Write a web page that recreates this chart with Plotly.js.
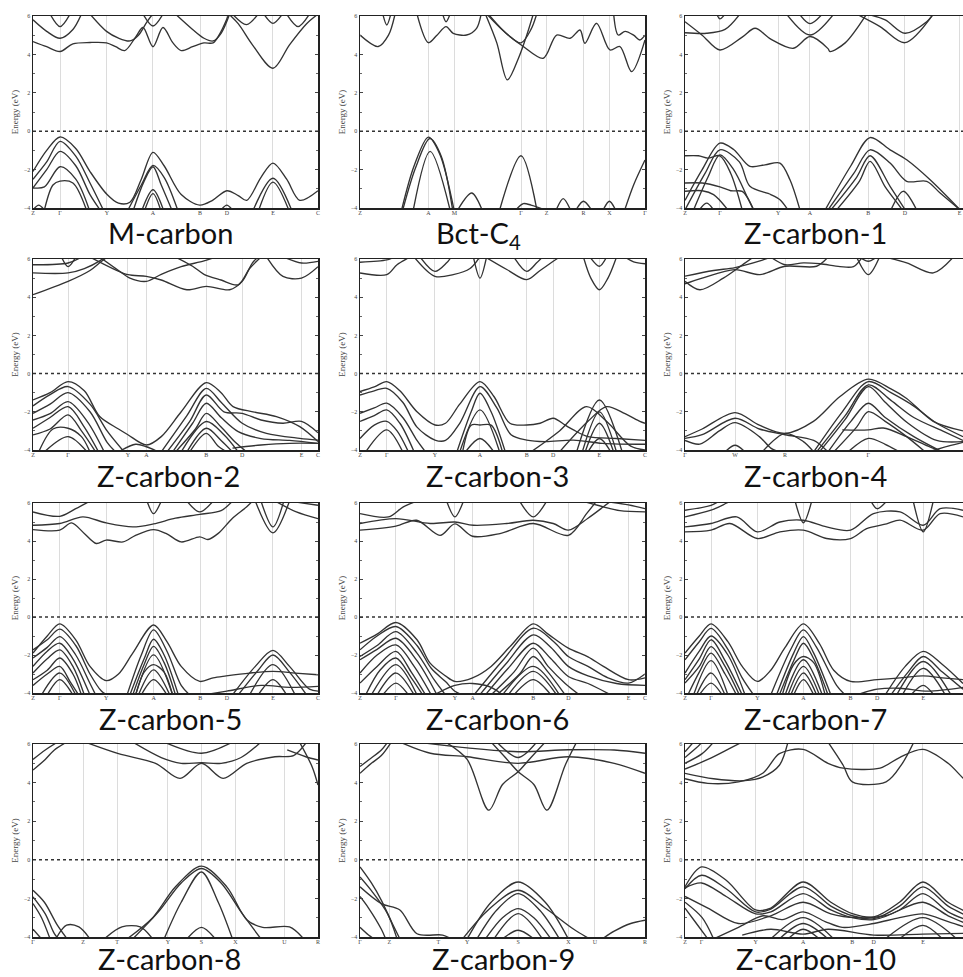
<!DOCTYPE html>
<html><head><meta charset="utf-8">
<script src="https://cdn.plot.ly/plotly-3.0.1.min.js"></script>
<style>html,body{margin:0;padding:0;background:#fff;overflow:hidden}</style>
</head><body><div id="chart" style="width:963px;height:977px"></div>
<script>
// ---------------- DATA ----------------
const panelTitles = ['M-carbon','Bct-C<sub>4</sub>','Z-carbon-1','Z-carbon-2','Z-carbon-3','Z-carbon-4',
  'Z-carbon-5','Z-carbon-6','Z-carbon-7','Z-carbon-8','Z-carbon-9','Z-carbon-10'];
const energyTicks = [-4,-2,0,2,4,6];
const fermiLevel = 0;

// k-path positions (fraction of path) and labels
const kposM = [0,.095,.259,.421,.586,.68,.842,1];           const klabM = ['Z','Γ','Y','A','B','D','E','C'];
const kposBct = [0,.24,.331,.565,.655,.784,.875,1];         const klabBct = ['Z','A','M','Γ','Z','R','X','Γ'];
const kposZ1 = [0,.122,.326,.437,.641,.769,.96];            const klabZ1 = ['Z','Γ','Y','A','B','D','E'];
const kposZ2 = [0,.123,.333,.398,.608,.734,.942,1];         const klabZ2 = ['Z','Γ','Y','A','B','D','E','C'];
const kposZ3 = [0,.094,.263,.421,.585,.678,.84,1];          const klabZ3 = ['Z','Γ','Y','A','B','D','E','C'];
const kposZ4 = [0,.175,.35,.641];                           const klabZ4 = ['Γ','W','R','Γ'];
const kposZ5 = [0,.094,.257,.423,.587,.68,.842,1];          const klabZ5 = ['Z','Γ','Y','A','B','D','E','C'];
const kposZ6 = [0,.126,.333,.395,.608,.731,.942,1];         const klabZ6 = ['Z','Γ','Y','A','B','D','E','C'];
const kposZ7 = [0,.091,.253,.414,.579,.672,.833];           const klabZ7 = ['Z','Γ','Y','A','B','D','E'];
const kposZ8 = [0,.176,.295,.473,.591,.71,.882,1];          const klabZ8 = ['Γ','Z','T','Y','S','X','U','R'];
const kposZ9 = [0,.103,.275,.376,.555,.731,.824,1];         const klabZ9 = ['Γ','Z','T','Y','S','X','U','R'];
const kposZ10 = [0,.058,.247,.413,.585,.66,.832];           const klabZ10 = ['Z','Γ','Y','A','B','D','E'];

// bands: each band is a list of [k, energy(eV)] points
const bandsM = [
 [[0,-2.1],[.048,-1.0],[.095,-0.3],[.15,-0.9],[.2,-2.1],[.26,-3.3],[.3,-3.75],[.34,-3.7],[.38,-2.5],[.421,-1.1],[.46,-1.8],[.52,-3.3],[.585,-3.85],[.63,-3.6],[.68,-3.1],[.72,-3.35],[.75,-3.6],[.8,-2.4],[.842,-1.66],[.89,-2.5],[.936,-3.6],[1,-3.1]],
 [[0,-2.5],[.048,-1.6],[.095,-0.53],[.15,-1.3],[.2,-2.7],[.25,-4.2]],
 [[0,-2.95],[.048,-2.0],[.095,-1.05],[.15,-1.8],[.2,-3.3],[.24,-4.2]],
 [[0,-2.95],[.04,-2.9],[.095,-1.85],[.15,-2.5],[.2,-4.2]],
 [[.04,-4.1],[.07,-2.8],[.095,-2.6],[.14,-2.7],[.19,-4.2]],
 [[.33,-4.2],[.38,-2.8],[.421,-1.78],[.46,-2.4],[.51,-4.2]],
 [[.35,-4.2],[.39,-2.6],[.421,-1.85],[.45,-2.8],[.49,-4.2]],
 [[.38,-4.2],[.421,-3.05],[.46,-4.2]],
 [[.39,-4.2],[.421,-3.25],[.45,-4.2]],
 [[.77,-4.2],[.842,-2.45],[.91,-4.2]],
 [[.79,-4.2],[.842,-2.65],[.9,-4.2]],
 [[.66,-4.1],[.68,-3.85],[.7,-4.1]],
 [[0,-4.1],[.02,-3.85],[.04,-4.1]],
 [[0,4.67],[.048,4.4],[.095,4.15],[.14,4.55],[.2,4.62],[.258,4.6],[.29,4.4],[.322,4.2],[.36,4.9],[.386,5.4],[.421,4.4],[.456,5.4],[.491,4.6],[.52,4.2],[.56,4.4],[.6,4.6],[.632,4.6],[.66,5.2],[.69,6.2]],
 [[.68,6.2],[.72,5.6],[.77,4.5],[.842,3.28],[.9,4.5],[.96,5.6],[1,6.1]],
 [[0,5.8],[.048,5.2],[.095,4.84],[.14,5.3],[.17,6.1]],
 [[.06,6.1],[.095,5.45],[.13,6.1]],
 [[.2,6.1],[.258,5.2],[.3,4.85],[.34,4.7],[.37,5.0],[.4,5.7],[.42,6.1]],
 [[.386,6.1],[.421,5.48],[.456,6.1]],
 [[.5,6.1],[.56,5.3],[.6,4.84],[.632,4.7],[.66,5.1],[.69,6.1]],
 [[.7,6.1],[.749,5.55],[.79,6.1]],
 [[.81,6.1],[.842,5.62],[.875,6.1]],
 [[.89,6.1],[.93,5.45],[.97,6.1]]
];
const bandsBct = [
 [[.146,-4.1],[.19,-1.8],[.24,-0.31],[.28,-1.2],[.33,-4.1]],
 [[.15,-4.1],[.195,-1.9],[.245,-0.38],[.285,-1.3],[.325,-4.1]],
 [[.187,-4.1],[.246,-1.05],[.316,-4.1]],
 [[.345,-4.05],[.392,-3.22],[.427,-4.05]],
 [[.491,-4.05],[.565,-1.28],[.62,-4.05]],
 [[.55,-4.05],[.573,-3.77],[.6,-3.85],[.64,-4.05]],
 [[.69,-4.05],[.713,-3.51],[.737,-4.05]],
 [[.76,-4.05],[.784,-3.65],[.81,-4.05]],
 [[.855,-4.05],[.875,-3.65],[.895,-4.05]],
 [[.93,-4.05],[.96,-2.8],[1,-1.5]],
 [[0,5.01],[.064,4.41],[.1,5.0],[.123,6.1]],
 [[.08,6.1],[.094,5.53],[.108,6.1]],
 [[.2,6.1],[.24,4.61],[.27,5.0],[.302,5.45],[.327,5.1],[.374,5.01],[.409,5.36],[.425,6.1]],
 [[.29,6.1],[.302,5.7],[.316,6.1]],
 [[.44,6.1],[.48,4.6],[.517,2.67],[.556,3.8],[.585,5.0],[.608,6.1]],
 [[.445,6.1],[.5,5.27],[.573,4.41],[.643,3.8],[.69,5.01],[.737,4.84],[.772,5.27],[.789,4.58],[.83,5.62],[.877,4.23],[.912,4.41],[.953,3.1],[1,4.75]],
 [[.45,6.1],[.52,5.0],[.565,4.6],[.6,5.3],[.62,6.1]],
 [[.89,6.1],[.906,5.01],[.93,5.2],[.96,5.0],[.982,4.75],[1,5.0]]
];
const bandsZ1 = [
 [[0,-3.6],[.06,-2.0],[.122,-0.62],[.17,-0.95],[.227,-1.83],[.28,-1.75],[.332,-1.66],[.367,-2.53],[.402,-4.1]],
 [[0,-4.1],[.07,-2.2],[.122,-0.97],[.19,-1.6],[.227,-2.87],[.3,-3.3],[.332,-3.57],[.36,-4.1]],
 [[.03,-4.1],[.08,-2.4],[.122,-1.23],[.17,-2.0],[.22,-3.5],[.24,-4.1]],
 [[0,-1.28],[.047,-1.28],[.08,-1.4],[.122,-1.28],[.16,-2.2],[.2,-4.1]],
 [[0,-2.7],[.06,-2.7],[.122,-2.9],[.16,-3.1],[.2,-3.13],[.22,-3.5],[.24,-4.1]],
 [[0,-3.13],[.06,-3.1],[.1,-3.3],[.15,-4.1]],
 [[.05,-4.1],[.076,-3.75],[.1,-4.1]],
 [[.49,-4.1],[.58,-1.8],[.647,-0.33],[.717,-0.97],[.775,-1.49],[.857,-2.53],[.962,-4.1]],
 [[.5,-4.1],[.59,-2.2],[.647,-0.97],[.717,-1.66],[.775,-2.61],[.845,-2.61],[.892,-3.22],[.962,-4.1]],
 [[.51,-4.1],[.6,-2.4],[.647,-1.28],[.717,-2.87],[.77,-4.1]],
 [[.53,-4.1],[.61,-2.6],[.647,-1.57],[.7,-2.9],[.745,-3.8],[.76,-4.1]],
 [[.72,-4.1],[.763,-3.13],[.81,-4.1]],
 [[0,5.7],[.06,5.0],[.122,4.23],[.2,4.9],[.245,5.36],[.3,4.8],[.379,4.32],[.437,4.93],[.5,4.3],[.507,4.15],[.56,4.6],[.635,6.1]],
 [[0,5.13],[.076,5.1],[.14,5.3],[.192,6.1]],
 [[.111,6.1],[.122,5.85],[.14,6.1]],
 [[.355,6.1],[.437,5.01],[.52,6.1]],
 [[.4,6.1],[.437,5.6],[.48,6.1]],
 [[.6,6.1],[.682,5.45],[.769,4.61],[.868,6.1]],
 [[.635,6.1],[.7,5.8],[.769,5.1],[.845,5.7],[.868,6.1]]
];
const bandsZ2 = [
 [[0,-1.38],[.06,-1.0],[.123,-0.42],[.18,-0.9],[.234,-2.25],[.3,-2.9],[.333,-3.2],[.398,-3.74],[.45,-3.3],[.52,-2.0],[.608,-0.47],[.66,-1.0],[.702,-1.73],[.772,-2.0],[.854,-2.25],[.936,-2.78],[1,-3.56]],
 [[0,-1.69],[.06,-1.1],[.123,-0.68],[.2,-1.6],[.26,-3.0],[.32,-4.1]],
 [[0,-2.08],[.06,-1.6],[.123,-1.0],[.2,-2.0],[.26,-3.6],[.29,-4.1]],
 [[0,-2.43],[.06,-2.1],[.123,-1.47],[.19,-2.5],[.25,-4.1]],
 [[0,-2.86],[.06,-2.3],[.123,-1.73],[.18,-2.8],[.23,-4.1]],
 [[0,-3.21],[.06,-2.9],[.123,-2.16],[.17,-3.0],[.22,-4.1]],
 [[.02,-4.1],[.07,-2.9],[.123,-2.86],[.17,-3.3],[.2,-4.1]],
 [[.04,-4.1],[.123,-3.3],[.19,-4.1]],
 [[.45,-4.1],[.54,-2.2],[.608,-0.77],[.66,-1.5],[.734,-2.6],[.819,-3.13],[.936,-3.39],[1,-3.48]],
 [[.47,-4.1],[.55,-2.5],[.608,-1.12],[.67,-2.0],[.734,-2.08],[.8,-2.43],[.877,-2.6],[.942,-2.5],[1,-3.1]],
 [[.49,-4.1],[.56,-2.6],[.608,-1.55],[.66,-2.3],[.72,-3.04],[.8,-3.4],[.9,-3.5],[1,-3.65]],
 [[.5,-4.1],[.57,-2.9],[.608,-2.08],[.66,-2.8],[.71,-3.6],[.75,-4.1]],
 [[.52,-4.1],[.608,-2.51],[.67,-3.2],[.72,-4.1]],
 [[.54,-4.1],[.608,-2.86],[.66,-3.5],[.7,-4.1]],
 [[.55,-4.1],[.608,-3.13],[.65,-3.8],[.68,-4.1]],
 [[.3,-4.1],[.36,-3.7],[.398,-3.83],[.44,-4.1]],
 [[.7,-3.9],[.8,-3.74],[.9,-3.65],[1,-3.65]],
 [[0,4.13],[.123,4.83],[.2,5.4],[.234,5.8],[.26,6.1]],
 [[0,5.27],[.123,5.27],[.18,5.5],[.234,5.9],[.25,6.1]],
 [[0,5.7],[.123,5.79],[.17,6.1]],
 [[.1,6.1],[.123,5.6],[.15,6.1]],
 [[.2,6.1],[.28,5.5],[.333,5.18],[.398,5.09],[.45,4.9],[.54,4.39],[.608,4.57],[.69,4.39],[.734,4.83],[.77,5.8],[.79,6.1]],
 [[.234,6.1],[.3,5.4],[.34,5.0],[.398,4.83],[.45,5.2],[.52,5.6],[.6,5.9],[.64,6.1]],
 [[.5,6.1],[.56,5.62],[.6,5.2],[.66,4.9],[.72,4.65],[.76,5.5],[.8,6.1]],
 [[.82,6.1],[.877,5.09],[.942,5.0],[1,5.6]],
 [[.88,6.1],[.942,5.79],[1,5.88]]
];
const bandsZ3 = [
 [[0,-0.94],[.05,-0.7],[.094,-0.42],[.14,-0.9],[.2,-2.0],[.263,-2.69],[.3,-2.6],[.35,-1.6],[.421,-0.42],[.47,-1.2],[.526,-2.6],[.585,-2.69],[.632,-2.6],[.678,-2.34],[.72,-2.7],[.749,-2.95],[.8,-3.3],[.9,-3.4],[1,-3.5]],
 [[0,-1.12],[.05,-0.9],[.094,-0.77],[.15,-1.5],[.2,-2.8],[.263,-3.48],[.3,-3.5],[.35,-2.6],[.421,-0.68],[.48,-1.8],[.53,-3.2],[.585,-3.48],[.65,-3.56],[.749,-3.48],[.85,-3.65],[1,-3.7]],
 [[0,-2.08],[.05,-1.8],[.094,-1.55],[.15,-2.3],[.2,-3.5],[.23,-4.1]],
 [[0,-2.5],[.05,-2.2],[.094,-1.9],[.14,-2.6],[.19,-4.1]],
 [[0,-3.4],[.05,-2.7],[.094,-2.5],[.13,-3.0],[.17,-4.1]],
 [[.02,-4.1],[.094,-2.95],[.15,-4.1]],
 [[.34,-4.1],[.39,-2.0],[.421,-1.03],[.46,-2.0],[.51,-4.1]],
 [[.35,-4.1],[.421,-1.9],[.49,-4.1]],
 [[.36,-4.1],[.39,-2.7],[.421,-2.69],[.46,-2.7],[.5,-4.1]],
 [[.37,-4.1],[.421,-3.4],[.47,-4.1]],
 [[.6,-4.1],[.7,-3.0],[.795,-1.73],[.865,-2.5],[.95,-3.8],[1,-4.0]],
 [[.7,-4.1],[.8,-2.5],[.865,-1.73],[.93,-2.1],[.982,-2.5],[1,-2.6]],
 [[.76,-4.1],[.84,-1.38],[.92,-4.1]],
 [[.78,-4.1],[.84,-2.0],[.9,-4.1]],
 [[.79,-4.1],[.84,-2.6],[.89,-4.1]],
 [[.8,-4.1],[.84,-3.4],[.88,-4.1]],
 [[0,5.27],[.094,5.18],[.13,5.7],[.175,6.1]],
 [[0,5.83],[.094,5.95],[.12,6.1]],
 [[.19,6.1],[.263,5.09],[.327,5.18],[.386,5.5],[.42,6.1]],
 [[.211,6.1],[.263,5.35],[.304,5.8],[.32,6.1]],
 [[.398,6.1],[.421,5.0],[.444,6.1]],
 [[.44,6.1],[.515,5.45],[.585,4.92],[.632,5.4],[.678,5.88],[.7,6.1]],
 [[.54,6.1],[.585,5.35],[.62,5.8],[.64,6.1]],
 [[.784,6.1],[.81,5.0],[.84,4.39],[.87,5.0],[.9,6.1]],
 [[.807,6.1],[.84,5.62],[.865,6.1]],
 [[.93,6.1],[.96,5.85],[1,5.75]]
];
const bandsZ4 = [
 [[0,-3.3],[.06,-2.9],[.175,-2.04],[.26,-2.7],[.35,-3.13],[.449,-2.5],[.542,-1.2],[.641,-0.29],[.72,-0.8],[.775,-1.3],[.868,-2.5],[.972,-3.0]],
 [[0,-3.39],[.06,-3.2],[.175,-2.34],[.26,-2.9],[.35,-3.2],[.45,-3.5],[.5,-4.1]],
 [[0,-3.5],[.052,-3.69],[.12,-3.0],[.175,-2.57],[.26,-3.3],[.3,-3.9],[.33,-4.1]],
 [[.14,-4.1],[.175,-3.75],[.21,-4.1]],
 [[.27,-4.1],[.35,-3.13],[.414,-3.56],[.45,-4.1]],
 [[.45,-4.1],[.55,-2.0],[.641,-0.42],[.72,-1.0],[.8,-1.7],[.88,-2.6],[.972,-3.3]],
 [[.46,-4.1],[.56,-2.2],[.641,-0.59],[.72,-1.4],[.8,-2.3],[.9,-3.0],[.972,-3.5]],
 [[.47,-4.1],[.56,-2.4],[.641,-0.68],[.7,-1.5],[.78,-2.6],[.88,-3.5],[.972,-3.56]],
 [[.5,-4.1],[.58,-2.5],[.641,-1.55],[.7,-2.3],[.8,-3.3],[.9,-4.1]],
 [[.52,-4.1],[.6,-2.8],[.641,-1.99],[.7,-2.5],[.775,-3.3],[.84,-4.1]],
 [[.55,-2.95],[.641,-2.95],[.693,-2.85],[.775,-3.3],[.85,-3.8],[.9,-4.1]],
 [[.57,-4.1],[.641,-3.39],[.7,-3.7],[.75,-4.1]],
 [[.85,-4.1],[.92,-3.8],[.972,-3.6]],
 [[0,4.83],[.052,4.39],[.134,5.0],[.192,5.6],[.239,6.1]],
 [[0,4.7],[.06,5.0],[.175,5.44],[.262,5.18],[.35,5.62],[.46,5.62],[.5,6.1]],
 [[0,5.1],[.1,5.4],[.175,5.55],[.262,5.9],[.3,6.1]],
 [[.3,6.1],[.35,5.7],[.414,5.8],[.472,5.75],[.542,5.6],[.589,5.6],[.62,6.1]],
 [[.6,6.1],[.641,5.18],[.68,6.1]],
 [[.61,6.1],[.641,5.88],[.67,6.1]],
 [[.7,6.1],[.775,5.8],[.868,5.27],[.938,6.1]]
];
const bandsZ5 = [
 [[0,-1.9],[.05,-1.0],[.094,-0.36],[.15,-1.2],[.2,-2.6],[.257,-3.35],[.3,-3.0],[.35,-1.9],[.423,-0.42],[.47,-1.3],[.52,-2.6],[.585,-3.39],[.632,-3.2],[.678,-3.1],[.76,-2.95],[.842,-2.86],[.92,-2.95],[1,-3.04]],
 [[0,-1.73],[.05,-1.2],[.094,-0.64],[.15,-1.5],[.2,-3.0],[.24,-3.9],[.26,-4.1]],
 [[0,-2.16],[.05,-1.6],[.094,-1.03],[.15,-2.0],[.2,-3.5],[.22,-4.1]],
 [[0,-2.6],[.05,-1.8],[.094,-1.38],[.14,-2.2],[.2,-4.1]],
 [[0,-2.95],[.05,-2.2],[.094,-1.73],[.14,-2.6],[.18,-4.1]],
 [[0,-3.3],[.05,-2.8],[.094,-2.16],[.14,-3.0],[.17,-4.1]],
 [[0,-3.6],[.05,-3.0],[.094,-2.6],[.13,-3.4],[.16,-4.1]],
 [[.03,-4.1],[.094,-2.95],[.15,-4.1]],
 [[.05,-4.1],[.094,-3.3],[.14,-4.1]],
 [[.33,-4.1],[.38,-2.0],[.423,-0.68],[.47,-1.8],[.52,-3.6],[.55,-4.1]],
 [[.34,-4.1],[.39,-2.2],[.423,-1.17],[.46,-2.0],[.51,-4.1]],
 [[.35,-4.1],[.39,-2.5],[.423,-1.55],[.46,-2.4],[.5,-4.1]],
 [[.36,-4.1],[.423,-1.99],[.49,-4.1]],
 [[.36,-4.1],[.39,-2.9],[.423,-2.51],[.46,-2.9],[.49,-4.1]],
 [[.37,-4.1],[.423,-2.78],[.48,-4.1]],
 [[.38,-4.1],[.423,-3.3],[.47,-4.1]],
 [[.7,-4.1],[.78,-2.6],[.842,-1.76],[.9,-2.6],[.97,-3.8],[1,-3.9]],
 [[.72,-4.1],[.79,-2.8],[.842,-2.0],[.9,-2.9],[.96,-4.1]],
 [[.76,-4.1],[.842,-2.51],[.92,-4.1]],
 [[.79,-4.1],[.842,-3.3],[.89,-4.1]],
 [[.6,-4.1],[.68,-3.9],[.8,-3.6],[.9,-3.7],[1,-3.65]],
 [[0,4.6],[.094,4.57],[.135,4.95],[.18,4.4],[.222,3.87],[.257,4.05],[.316,3.95],[.36,4.3],[.423,4.6],[.468,4.39],[.52,3.95],[.585,4.22],[.614,4.08],[.65,4.4],[.7,5.2],[.75,5.8],[.77,6.1]],
 [[0,4.83],[.094,4.92],[.175,5.27],[.257,4.95],[.35,4.74],[.423,4.9],[.5,5.2],[.585,5.4],[.66,5.6],[.7,6.1]],
 [[0,5.53],[.094,5.3],[.15,5.7],[.2,6.1]],
 [[.4,6.1],[.423,5.44],[.45,6.1]],
 [[.54,6.1],[.585,5.53],[.632,6.1]],
 [[.78,6.1],[.842,4.43],[.9,6.1]],
 [[.8,6.1],[.842,4.74],[.88,6.1]],
 [[.85,6.1],[.924,5.53],[1,5.18]],
 [[.9,6.1],[1,5.88]]
];
const bandsZ6 = [
 [[0,-1.38],[.06,-0.9],[.126,-0.29],[.2,-1.2],[.246,-2.43],[.3,-3.1],[.333,-3.39],[.395,-3.2],[.46,-2.6],[.53,-1.5],[.608,-0.36],[.66,-0.9],[.731,-1.64],[.8,-2.1],[.854,-2.6],[.942,-3.3],[1,-3.2]],
 [[0,-1.73],[.06,-1.0],[.126,-0.5],[.2,-1.5],[.25,-2.7],[.3,-3.4],[.333,-3.91],[.36,-4.1]],
 [[0,-2.08],[.06,-1.5],[.126,-0.77],[.2,-1.9],[.26,-3.3],[.3,-4.1]],
 [[0,-2.25],[.06,-1.7],[.126,-1.12],[.2,-2.3],[.27,-4.1]],
 [[0,-2.95],[.06,-2.0],[.126,-1.47],[.19,-2.6],[.25,-4.1]],
 [[0,-3.48],[.06,-2.6],[.126,-1.81],[.18,-2.9],[.23,-4.1]],
 [[.02,-4.1],[.07,-2.8],[.126,-2.16],[.18,-3.2],[.22,-4.1]],
 [[.04,-4.1],[.126,-2.51],[.2,-4.1]],
 [[.06,-4.1],[.126,-2.95],[.19,-4.1]],
 [[.08,-4.1],[.126,-3.48],[.17,-4.1]],
 [[.4,-4.1],[.5,-2.3],[.608,-0.59],[.68,-1.3],[.731,-2.08],[.8,-2.6],[.87,-3.2],[.942,-3.48],[1,-3.0]],
 [[.42,-4.1],[.51,-2.5],[.608,-0.94],[.67,-1.6],[.731,-2.6],[.8,-3.1],[.9,-3.5],[1,-3.6]],
 [[.44,-4.1],[.52,-2.7],[.608,-1.38],[.67,-2.2],[.731,-3.13],[.8,-3.5],[.88,-4.1]],
 [[.46,-4.1],[.54,-2.9],[.608,-1.64],[.66,-2.6],[.72,-3.5],[.77,-4.1]],
 [[.48,-4.1],[.56,-3.0],[.608,-2.08],[.66,-2.9],[.72,-4.1]],
 [[.5,-4.1],[.608,-2.6],[.7,-4.1]],
 [[.52,-4.1],[.608,-2.86],[.69,-4.1]],
 [[.54,-4.1],[.608,-3.3],[.67,-4.1]],
 [[.26,-4.1],[.333,-3.6],[.395,-3.5],[.46,-3.7],[.5,-4.1]],
 [[0,4.57],[.126,4.78],[.199,5.09],[.281,4.3],[.333,4.9],[.395,4.25],[.491,4.39],[.608,4.92],[.731,4.3],[.795,5.44],[.83,6.1]],
 [[0,4.92],[.126,5.18],[.246,4.92],[.333,5.0],[.398,4.83],[.515,4.92],[.608,5.09],[.678,4.92],[.731,4.57],[.8,5.2],[.854,5.8],[.88,6.1]],
 [[0,5.44],[.1,5.27],[.152,5.8],[.2,6.1]],
 [[.304,6.1],[.333,5.27],[.363,6.1]],
 [[.56,6.1],[.608,5.27],[.655,6.1]],
 [[.78,6.1],[.854,5.8],[.912,5.6],[1,5.53]],
 [[.85,6.1],[.942,5.9],[1,5.7]]
];
const bandsZ7 = [
 [[0,-1.9],[.05,-1.0],[.091,-0.36],[.15,-1.3],[.2,-2.6],[.253,-3.39],[.3,-2.8],[.35,-1.6],[.414,-0.36],[.47,-1.4],[.52,-2.8],[.579,-3.39],[.672,-3.3],[.752,-3.2],[.833,-3.1],[.9,-3.2],[.972,-3.3]],
 [[0,-2.25],[.05,-1.3],[.091,-0.6],[.15,-1.7],[.2,-3.2],[.24,-4.1]],
 [[0,-2.95],[.05,-1.8],[.091,-1.0],[.15,-2.0],[.21,-4.1]],
 [[0,-3.3],[.05,-2.2],[.091,-1.2],[.14,-2.3],[.2,-4.1]],
 [[0,-3.48],[.05,-2.6],[.091,-1.56],[.14,-2.6],[.19,-4.1]],
 [[.01,-4.1],[.05,-2.9],[.091,-1.9],[.14,-3.0],[.18,-4.1]],
 [[.03,-4.1],[.091,-2.3],[.15,-4.1]],
 [[.04,-4.1],[.091,-2.95],[.14,-4.1]],
 [[.05,-4.1],[.091,-3.48],[.13,-4.1]],
 [[.3,-4.1],[.37,-1.7],[.414,-0.68],[.46,-1.6],[.53,-3.6],[.56,-4.1]],
 [[.32,-4.1],[.38,-1.9],[.414,-1.03],[.45,-1.9],[.51,-4.1]],
 [[.33,-4.1],[.38,-2.3],[.414,-1.38],[.45,-2.2],[.5,-4.1]],
 [[.34,-4.1],[.38,-2.5],[.414,-2.08],[.45,-2.4],[.49,-4.1]],
 [[.35,-4.1],[.414,-2.25],[.48,-4.1]],
 [[.36,-4.1],[.414,-2.6],[.47,-4.1]],
 [[.37,-4.1],[.414,-2.95],[.46,-4.1]],
 [[.38,-4.1],[.414,-3.3],[.45,-4.1]],
 [[.7,-4.1],[.77,-2.6],[.833,-1.81],[.9,-2.5],[.972,-3.5]],
 [[.72,-4.1],[.78,-2.9],[.833,-2.08],[.9,-2.9],[.972,-3.8]],
 [[.74,-4.1],[.833,-2.34],[.93,-4.1]],
 [[.76,-4.1],[.833,-2.7],[.91,-4.1]],
 [[.79,-4.1],[.833,-3.6],[.87,-4.1]],
 [[.6,-4.1],[.672,-3.8],[.75,-3.75],[.85,-3.9],[.972,-3.7]],
 [[0,4.48],[.091,4.57],[.157,4.92],[.253,4.13],[.332,4.48],[.414,4.57],[.495,4.13],[.579,4.13],[.635,4.65],[.705,4.9],[.752,5.1],[.833,4.57],[.892,5.44],[.972,5.27]],
 [[0,4.74],[.091,4.92],[.181,5.27],[.253,4.48],[.332,5.0],[.414,5.09],[.495,4.74],[.579,4.57],[.659,5.44],[.752,5.53],[.833,4.83],[.892,5.7],[.972,5.62]],
 [[0,5.27],[.091,5.62],[.146,6.0],[.16,6.1]],
 [[0,5.62],[.091,5.88],[.12,6.1]],
 [[.385,6.1],[.414,4.96],[.443,6.1]],
 [[.798,6.1],[.833,4.48],[.868,6.1]],
 [[.65,6.1],[.672,5.7],[.705,6.1]]
];
const bandsZ8 = [
 [[.33,-4.1],[.42,-3.0],[.5,-1.4],[.591,-0.33],[.68,-1.4],[.75,-3.1],[.806,-3.5],[.9,-3.48],[.95,-4.1]],
 [[.35,-4.1],[.44,-2.7],[.52,-1.2],[.591,-0.45],[.66,-1.2],[.73,-2.7],[.8,-4.1]],
 [[.46,-4.1],[.52,-2.2],[.591,-0.63],[.65,-2.2],[.7,-4.1]],
 [[.54,-4.1],[.591,-3.5],[.64,-4.1]],
 [[0,-1.58],[.04,-2.2],[.086,-3.4],[.12,-4.1]],
 [[0,-1.92],[.043,-2.8],[.075,-3.83],[.09,-4.1]],
 [[0,-2.27],[.03,-3.0],[.06,-4.1]],
 [[.08,-4.1],[.118,-3.39],[.161,-3.48],[.2,-4.1]],
 [[.25,-4.1],[.312,-3.48],[.376,-3.48],[.42,-4.1]],
 [[0,-3.6],[.03,-4.1]],
 [[0,4.65],[.043,5.2],[.075,5.69],[.118,6.1]],
 [[0,5.2],[.043,5.69],[.086,6.1]],
 [[.183,6.1],[.3,5.5],[.43,5.0],[.516,4.22],[.591,5.0],[.667,4.22],[.75,5.0],[.849,5.34],[.914,5.4],[.96,6.1]],
 [[.35,6.1],[.45,5.3],[.52,5.0],[.591,5.03],[.66,5.0],[.73,5.3],[.8,6.1]],
 [[.46,6.1],[.591,5.52],[.7,6.1]],
 [[.935,6.1],[.98,4.8],[1,3.87]],
 [[.892,5.69],[.957,5.34],[1,5.17]]
];
const bandsZ9 = [
 [[0,-0.37],[.04,-1.2],[.075,-2.1],[.11,-3.2],[.14,-4.1]],
 [[0,-0.89],[.04,-1.6],[.097,-2.8],[.13,-4.1]],
 [[0,-1.4],[.075,-2.27],[.14,-2.6],[.2,-3.83],[.29,-3.9],[.32,-4.1]],
 [[0,-1.9],[.03,-2.5],[.075,-3.6],[.09,-4.1]],
 [[0,-3.5],[.03,-3.9],[.05,-4.1]],
 [[.376,-4.1],[.46,-2.2],[.555,-1.15],[.65,-2.2],[.731,-4.1]],
 [[.36,-4.1],[.45,-2.6],[.555,-1.58],[.65,-2.5],[.75,-3.6],[.806,-4.1]],
 [[.41,-4.1],[.48,-2.6],[.555,-1.75],[.63,-2.6],[.7,-4.1]],
 [[.44,-4.1],[.5,-3.0],[.555,-2.53],[.61,-3.0],[.67,-4.1]],
 [[.47,-4.1],[.555,-2.79],[.64,-4.1]],
 [[.5,-4.1],[.555,-3.65],[.61,-4.1]],
 [[.85,-4.1],[.892,-3.7],[.95,-3.3],[1,-3.13]],
 [[.3,6.1],[.376,5.2],[.452,2.57],[.5,3.9],[.555,4.56],[.6,5.3],[.65,6.1]],
 [[.46,6.1],[.51,5.3],[.555,4.56],[.61,3.9],[.656,2.57],[.72,4.9],[.76,6.1]],
 [[0,4.48],[.04,5.0],[.075,5.4],[.11,6.1]],
 [[0,4.83],[.03,5.17],[.075,5.69],[.097,6.1]],
 [[.14,6.1],[.247,5.52],[.376,5.34],[.555,5.0],[.731,5.34],[.892,5.0],[1,4.48]],
 [[.2,6.1],[.376,5.8],[.555,5.6],[.731,5.7],[.892,5.69],[1,5.52]],
 [[.48,6.1],[.555,5.3],[.62,6.1]]
];
const bandsZ10 = [
 [[0,-1.4],[.058,-0.37],[.144,-1.06],[.247,-2.6],[.3,-2.5],[.413,-1.15],[.51,-2.2],[.585,-2.79],[.66,-2.96],[.75,-2.2],[.832,-1.15],[.92,-2.2],[1,-2.8]],
 [[0,-1.5],[.058,-0.8],[.144,-1.5],[.247,-2.7],[.3,-2.55],[.413,-1.4],[.51,-2.4],[.585,-2.9],[.66,-3.05],[.75,-2.4],[.832,-1.4],[.92,-2.4],[1,-3.0]],
 [[0,-1.45],[.058,-1.2],[.144,-1.9],[.247,-2.8],[.3,-2.7],[.413,-1.75],[.51,-2.6],[.585,-3.0],[.66,-3.1],[.75,-2.6],[.832,-1.75],[.92,-2.7],[1,-3.2]],
 [[0,-1.9],[.08,-2.5],[.187,-3.3],[.3,-2.9],[.413,-2.2],[.51,-2.8],[.6,-3.0],[.7,-2.9],[.832,-2.2],[.92,-2.9],[1,-3.4]],
 [[0,-2.2],[.06,-3.0],[.1,-4.1]],
 [[0,-2.5],[.04,-3.3],[.08,-4.1]],
 [[.1,-4.1],[.187,-3.5],[.273,-2.9],[.34,-3.1],[.413,-2.7],[.49,-3.2],[.55,-3.5],[.66,-3.3],[.75,-3.0],[.832,-2.8],[.92,-3.2],[1,-3.6]],
 [[.3,-4.1],[.413,-3.0],[.52,-4.1]],
 [[.33,-4.1],[.413,-3.3],[.5,-4.1]],
 [[.36,-4.1],[.413,-3.6],[.47,-4.1]],
 [[.7,-4.1],[.832,-3.0],[.95,-4.1]],
 [[.75,-4.1],[.832,-3.4],[.9,-4.1]],
 [[.2,-3.9],[.3,-3.6],[.413,-3.85],[.5,-3.6],[.66,-3.9],[.832,-3.85],[1,-3.8]],
 [[0,4.2],[.08,3.96],[.187,4.04],[.273,4.5],[.33,5.5],[.413,5.72],[.5,5.0],[.553,4.75],[.682,4.75],[.75,5.3],[.832,5.72],[.92,5.0],[.98,4.13],[1,4.0]],
 [[0,4.48],[.1,4.2],[.209,4.1],[.273,4.3],[.33,4.9],[.36,6.1]],
 [[0,5.0],[.06,5.5],[.1,6.1]],
 [[0,5.3],[.04,5.8],[.06,6.1]],
 [[0,5.6],[.03,6.1]],
 [[0,4.7],[.08,5.2],[.16,5.8],[.2,6.1]],
 [[.5,6.1],[.553,4.9],[.585,4.04],[.703,4.04],[.76,5.0],[.8,6.1]]
];

// ---------------- LAYOUT / BUILD ----------------
const W = 963, H = 977;
const colPx = [[33,318],[360,645],[685,963]];
const colRange = [1,1,0.972];
const rowPx = [[16,208],[259,450],[503,693],[744,937]];
const titleTopPx = [214,457,700];   // rows 1-3; bottom row sits on the page bottom
const titleXPx = [170,478,815, 168,497,815, 170,497,815, 169,503,816];

const panels = [
 [kposM,klabM,bandsM],[kposBct,klabBct,bandsBct],[kposZ1,klabZ1,bandsZ1],
 [kposZ2,klabZ2,bandsZ2],[kposZ3,klabZ3,bandsZ3],[kposZ4,klabZ4,bandsZ4],
 [kposZ5,klabZ5,bandsZ5],[kposZ6,klabZ6,bandsZ6],[kposZ7,klabZ7,bandsZ7],
 [kposZ8,klabZ8,bandsZ8],[kposZ9,klabZ9,bandsZ9],[kposZ10,klabZ10,bandsZ10]
];

const traces = [];
const layout = {
  width: W, height: H, margin: {l:0,r:0,t:0,b:0},
  paper_bgcolor: '#fff', plot_bgcolor: '#fff', showlegend: false,
  shapes: [], annotations: []
};
const serif = 'Liberation Serif, DejaVu Serif, serif';

panels.forEach((p, i) => {
  const [kpos, klab, bands] = p;
  const r = Math.floor(i/3), c = i % 3, n = i+1;
  const xn = 'x' + n, yn = 'y' + n;
  bands.forEach(b => {
    traces.push({
      type: 'scatter', mode: 'lines', xaxis: xn, yaxis: yn,
      x: b.map(q => q[0]), y: b.map(q => q[1]),
      line: {color: '#333', width: 1.35, shape: 'spline', smoothing: 0.9},
      hoverinfo: 'skip'
    });
  });
  const vis = kpos.map((k, j) => [k, klab[j]]).filter(q => q[0] <= colRange[c] + 1e-9);
  layout['xaxis' + n] = {
    domain: [colPx[c][0]/W, colPx[c][1]/W], anchor: yn,
    range: [0, colRange[c]], tickmode: 'array',
    tickvals: vis.map(q => q[0]), ticktext: vis.map(q => q[1]),
    showgrid: true, gridcolor: '#dcdcdc', gridwidth: 1, zeroline: false,
    showline: true, mirror: true, linecolor: '#222', linewidth: 1.5,
    ticks: '', ticklabelstandoff: -2,
    tickfont: {family: serif, size: 6, color: '#444'}, fixedrange: true
  };
  layout['yaxis' + n] = {
    domain: [1 - rowPx[r][1]/H, 1 - rowPx[r][0]/H], anchor: xn,
    range: [-4, 6], tickmode: 'array', tickvals: energyTicks,
    ticks: 'inside', ticklen: 3, tickcolor: '#444', tickwidth: 1,
    minor: {dtick: 1, ticks: 'inside', ticklen: 2, tickcolor: '#666'},
    showgrid: false, zeroline: false, showline: true, mirror: c < 2 ? 'ticks' : false,
    linecolor: '#222', linewidth: 1.5,
    tickfont: {family: serif, size: 6, color: '#444'},
    title: {text: 'Energy (eV)', font: {family: serif, size: 9, color: '#444'}, standoff: 4},
    fixedrange: true
  };
  layout.shapes.push({
    type: 'line', xref: xn + ' domain', yref: yn, x0: 0, x1: 1, y0: fermiLevel, y1: fermiLevel,
    line: {color: '#333', width: 1.5, dash: 'dot'}
  });
  const ann = {
    xref: 'paper', yref: 'paper', x: titleXPx[i]/W,
    xanchor: 'center', showarrow: false, borderpad: 0,
    text: panelTitles[i], font: {family: 'Lato, Open Sans, sans-serif', size: 29, color: '#111'}
  };
  if (r === 3) Object.assign(ann, {y: 0, yanchor: 'bottom'});
  else Object.assign(ann, {y: 1 - titleTopPx[r]/H, yanchor: 'top'});
  layout.annotations.push(ann);
});

Plotly.newPlot('chart', traces, layout, {displayModeBar: false, staticPlot: true});
</script>
</body></html>
